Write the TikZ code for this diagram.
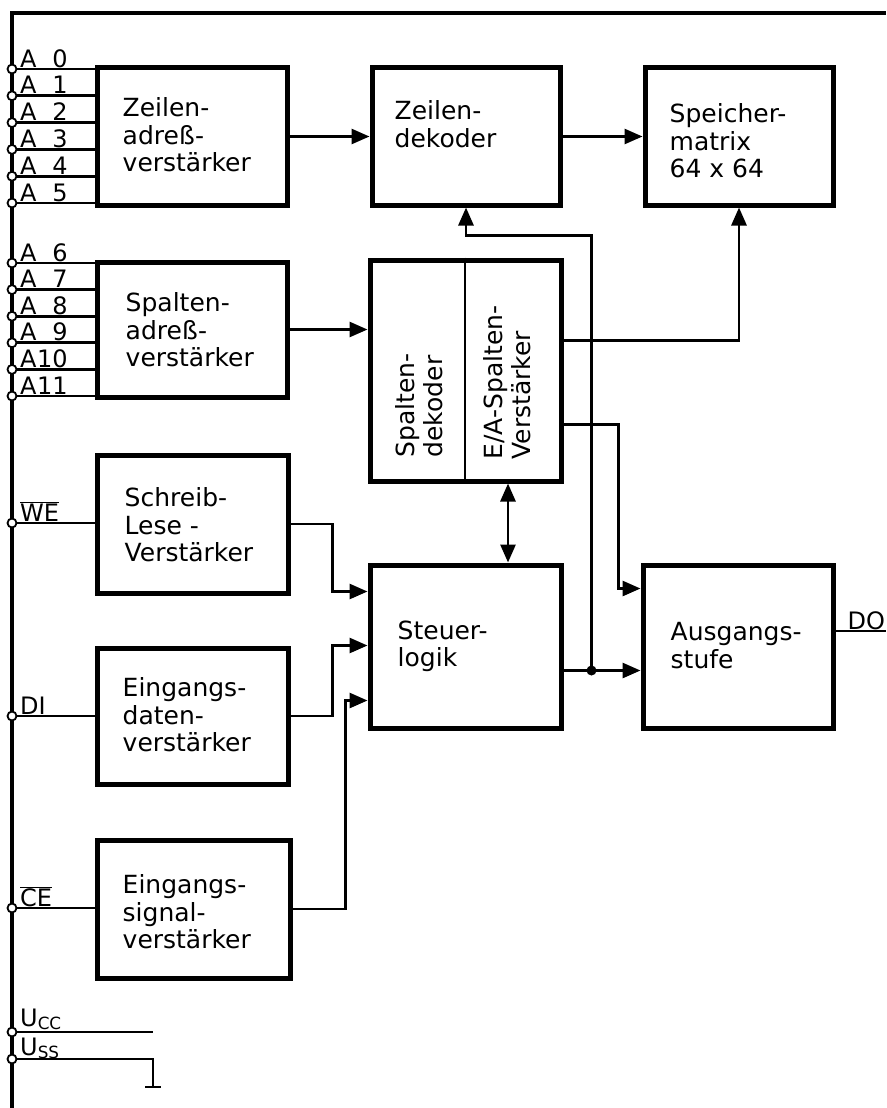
\documentclass[tikz,border=0pt]{standalone}
\usepackage{fontspec}
\setmainfont{DejaVu Sans}
\usetikzlibrary{arrows.meta}

\begin{document}
\begin{tikzpicture}[x=1pt,y=-1pt,
  blk/.style={draw,line width=5pt,inner sep=0pt},
  txt/.style={anchor=north west,align=left,inner sep=0pt,font=\fontsize{25}{27.5}\selectfont},
  pinlbl/.style={anchor=base west,inner sep=0pt,font=\fontsize{24}{24}\selectfont},
  pin/.style={circle,draw,fill=white,line width=1.8pt,inner sep=0pt,minimum size=9pt},
  wire/.style={line width=2.8pt},
  tip/.tip={Triangle[length=18pt,width=15pt]},
  arr/.style={wire,-tip}]
\useasboundingbox (0,0) rectangle (886,1108);
\draw[line width=3.2pt] (12,1108) -- (12,13) -- (886,13);

\node[blk,minimum width=190pt,minimum height=137pt] (za) at (192,136.5) {};
\node[blk,minimum width=190pt,minimum height=135pt] (sa) at (192,329.5) {};
\node[blk,minimum width=191pt,minimum height=138pt] (sl) at (192.5,524) {};
\node[blk,minimum width=191pt,minimum height=136pt] (ed) at (192.5,716) {};
\node[blk,minimum width=193pt,minimum height=138pt] (es) at (193.5,909) {};
\node[blk,minimum width=188pt,minimum height=137pt] (zd) at (466,136.5) {};
\node[blk,minimum width=188pt,minimum height=137pt] (sm) at (739,136.5) {};
\node[blk,minimum width=191pt,minimum height=221pt] (sd) at (465.5,370.5) {};
\node[blk,minimum width=191pt,minimum height=163pt] (st) at (465.5,646.5) {};
\node[blk,minimum width=190pt,minimum height=163pt] (au) at (738,646.5) {};
\draw[wire] ([xshift=-0.5pt]sd.north) -- ([xshift=-0.5pt]sd.south);

\node[txt] (zatxt) at ([xshift=28pt,yshift=-32pt]za.north west) {Zeilen-\\adreß-\\verstärker};
\node[txt] (satxt) at ([xshift=31pt,yshift=-33pt]sa.north west) {Spalten-\\adreß-\\verstärker};
\node[txt] (sltxt) at ([xshift=30pt,yshift=-35pt]sl.north west) {Schreib-\\Lese -\\Verstärker};
\node[txt] (edtxt) at ([xshift=28pt,yshift=-32pt]ed.north west) {Eingangs-\\daten-\\verstärker};
\node[txt] (estxt) at ([xshift=28pt,yshift=-37pt]es.north west) {Eingangs-\\signal-\\verstärker};
\node[txt] (zdtxt) at ([xshift=25pt,yshift=-35pt]zd.north west) {Zeilen-\\dekoder};
\node[txt] (smtxt) at ([xshift=27pt,yshift=-38pt]sm.north west) {Speicher-\\matrix\\64 x 64};
\node[txt] (sttxt) at ([xshift=30pt,yshift=-58pt]st.north west) {Steuer-\\logik};
\node[txt] (autxt) at ([xshift=30pt,yshift=-60pt]au.north west) {Ausgangs-\\stufe};
\node[txt,rotate=90] (sdtxt) at ([xshift=28pt,yshift=26pt]sd.south west) {Spalten-\\dekoder};
\node[txt,rotate=90] (eatxt) at ([xshift=116pt,yshift=24pt]sd.south west) {E/A-Spalten-\\Verstärker};

\foreach \i in {0,...,5} {
  \node[pin] (a\i) at (12,69+26.8*\i) {};
  \draw[wire] (a\i) -- (a\i -| za.west);
  \node[pinlbl] (la\i) at ([xshift=8pt,yshift=2pt]a\i.center) {A\makebox[31pt][r]{\i}};
}
\foreach \i in {6,...,11} {
  \node[pin] (a\i) at (12,263+26.6*\i-159.6) {};
  \draw[wire] (a\i) -- (a\i -| sa.west);
  \node[pinlbl] (la\i) at ([xshift=8pt,yshift=2pt]a\i.center) {A\makebox[31pt][r]{\i}};
}
\node[pin] (we) at (12,523) {};
\draw[wire] (we) -- (we -| sl.west);
\node[pinlbl] (lwe) at ([xshift=8pt,yshift=2pt]we.center) {$\overline{\mbox{WE}}$};
\node[pin] (di) at (12,716) {};
\draw[wire] (di) -- (di -| ed.west);
\node[pinlbl] (ldi) at ([xshift=8pt,yshift=2pt]di.center) {DI};
\node[pin] (ce) at (12,908) {};
\draw[wire] (ce) -- (ce -| es.west);
\node[pinlbl] (lce) at ([xshift=8pt,yshift=2pt]ce.center) {$\overline{\mbox{CE}}$};
\node[pin] (ucc) at (12,1032) {};
\coordinate (uccend) at (153,1032);
\draw[wire] (ucc) -- (uccend);
\node[pinlbl] (lucc) at ([xshift=8pt,yshift=6pt]ucc.center) {U\textsubscript{CC}};
\node[pin] (uss) at (12,1059) {};
\coordinate (gnd) at (153,1087);
\draw[wire] (uss) -| (gnd);
\draw[wire] ([xshift=-8pt]gnd) -- ([xshift=8pt]gnd);
\node[pinlbl] (luss) at ([xshift=8pt,yshift=4pt]uss.center) {U\textsubscript{SS}};

\draw[arr] (za.east) -- (zd.west);
\draw[arr] (zd.east) -- (sm.west);
\draw[arr] (sa.east) -- (sa.east -| sd.west);
\draw[arr] ([yshift=-83pt]sd.north east) -| (sm.south);
\draw[arr] ([yshift=-167pt]sd.north east) -- ++(55,0) |- ([yshift=-26pt]au.north west);
\draw[wire,tip-tip] ([xshift=42.5pt]sd.south) -- ([xshift=42.5pt]st.north);
\draw[arr] (sl.east) -- ++(42,0) |- ([yshift=-29pt]st.north west);
\draw[arr] (ed.east) -- ++(42,0) |- ([yshift=-83pt]st.north west);
\draw[arr] (es.east) -- ++(53,0) |- ([yshift=-138pt]st.north west);
\coordinate (jn) at ([xshift=28pt,yshift=-108pt]st.north east);
\draw[arr] ([yshift=-108pt]st.north east) -- ([yshift=-108pt]au.north west);
\fill (jn) circle (5pt);
\draw[arr] (jn) |- ([yshift=-28pt]zd.south) -- (zd.south);
\coordinate (dout) at (886,631);
\draw[wire] (dout -| au.east) -- (dout);
\node[pinlbl] (ldo) at ([xshift=12pt,yshift=2pt]dout -| au.east) {DO};
\end{tikzpicture}
\end{document}
